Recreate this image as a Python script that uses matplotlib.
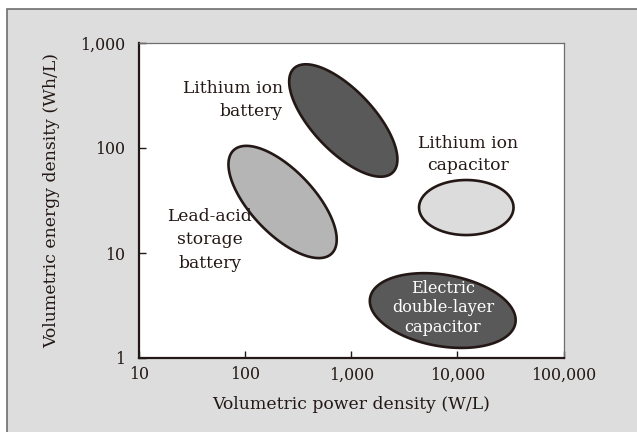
import numpy as np
import matplotlib
matplotlib.use("Agg")
import matplotlib.pyplot as plt
from matplotlib.patches import Rectangle

plt.rcParams['font.family'] = ['DejaVu Serif']

# axis ticks
x_ticks = [10, 100, 1000, 10000, 100000]
x_tick_labels = ['10', '100', '1,000', '10,000', '100,000']
y_ticks = [1, 10, 100, 1000]
y_tick_labels = ['1', '10', '100', '1,000']

# regions: centre (log10 W/L, log10 Wh/L), semi-axes in decades, tilt in degrees
names = ['Lithium ion battery', 'Lead-acid storage battery',
         'Lithium ion capacitor', 'Electric double-layer capacitor']
centre_x = [2.925, 2.353, 4.084, 3.862]
centre_y = [2.262, 1.486, 1.433, 0.452]
semi_major = [0.68, 0.675, 0.445, 0.695]
semi_minor = [0.29, 0.30, 0.262, 0.34]
tilt = [-47, -47, 0, -10]
fills = ['#595959', '#b5b5b5', '#dcdcdc', '#595959']

edge = '#231815'

fig = plt.figure(figsize=(6.37, 4.32), dpi=100)
fig.patches.append(Rectangle((7 / 637, -0.1), 1.2, 1.1 - 9 / 432, transform=fig.transFigure,
                             facecolor='#dcdddc', edgecolor='#6e6e6e', linewidth=1.2,
                             zorder=-5))

ax = fig.add_axes([139 / 637, 1 - 358 / 432, 424.5 / 637, 315 / 432])
ax.set_zorder(2)
ax.set_xscale('log')
ax.set_yscale('log')
ax.set_xlim(10, 100000)
ax.set_ylim(1, 1000)

t = np.linspace(0, 2 * np.pi, 300)
for cx, cy, a, b, ang, fc in zip(centre_x, centre_y, semi_major, semi_minor, tilt, fills):
    th = np.radians(ang)
    lx = cx + a * np.cos(t) * np.cos(th) - b * np.sin(t) * np.sin(th)
    ly = cy + a * np.cos(t) * np.sin(th) + b * np.sin(t) * np.cos(th)
    ax.fill(10 ** lx, 10 ** ly, facecolor=fc, edgecolor=edge, linewidth=1.9, zorder=3)

ax.text(0.339, 0.819, 'Lithium ion\nbattery', transform=ax.transAxes,
        ha='right', va='center', fontsize=12.3, color=edge, linespacing=1.4)
ax.text(0.167, 0.376, 'Lead-acid\nstorage\nbattery', transform=ax.transAxes,
        ha='center', va='center', fontsize=12.3, color=edge, linespacing=1.5)
ax.text(0.775, 0.646, 'Lithium ion\ncapacitor', transform=ax.transAxes,
        ha='center', va='center', fontsize=12.3, color=edge, linespacing=1.4)
ax.text(0.716, 0.159, 'Electric\ndouble-layer\ncapacitor', transform=ax.transAxes,
        ha='center', va='center', fontsize=11.6, color='white', linespacing=1.2, zorder=5)

ax.set_xticks(x_ticks)
ax.set_xticklabels(x_tick_labels)
ax.set_yticks(y_ticks)
ax.set_yticklabels(y_tick_labels)
ax.minorticks_off()
ax.tick_params(direction='in', length=5, width=1.0, color=edge, labelsize=11.4,
               labelcolor=edge)
ax.tick_params(axis='x', pad=6)
ax.tick_params(axis='y', pad=10)

for side in ['left', 'bottom']:
    ax.spines[side].set_linewidth(1.6)
    ax.spines[side].set_color(edge)
for side in ['top', 'right']:
    ax.spines[side].set_linewidth(0.9)
    ax.spines[side].set_color('#6e6e6e')

ax.set_xlabel('Volumetric power density (W/L)', fontsize=12.4, color=edge, labelpad=9)
ax.set_ylabel('Volumetric energy density (Wh/L)', fontsize=12.4, color=edge, labelpad=14)

fig.savefig('out.png', dpi=100)
